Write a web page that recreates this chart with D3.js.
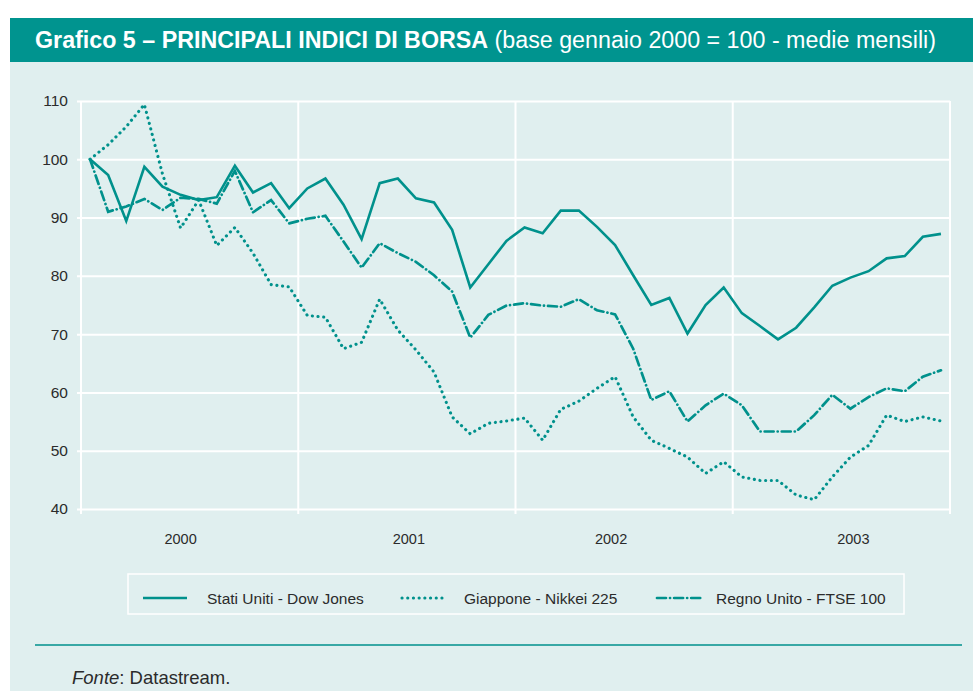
<!DOCTYPE html>
<html><head><meta charset="utf-8">
<script src="https://cdn.jsdelivr.net/npm/d3@7"></script>
<style>
html,body{margin:0;padding:0;background:#fff;}
svg{display:block;}
text{font-family:"Liberation Sans",Arial,Helvetica,sans-serif;}
</style></head>
<body>
<svg id="chart" width="973" height="691"></svg>
<script>
// ---- data ----
const years = ["2000", "2001", "2002", "2003"];
const yTicks = [40, 50, 60, 70, 80, 90, 100, 110];
const seriesNames = ["Stati Uniti - Dow Jones", "Giappone - Nikkei 225", "Regno Unito - FTSE 100"];
const dowJones = [100.0, 97.3, 89.4, 98.7, 95.3, 93.9, 93.0, 93.5, 98.9, 94.3, 95.9, 91.6,
  95.0, 96.7, 92.2, 86.3, 95.9, 96.7, 93.3, 92.6, 87.9, 78.0, 82.0, 86.0,
  88.3, 87.3, 91.2, 91.2, 88.4, 85.3, 80.1, 75.0, 76.2, 70.1, 75.0, 78.0,
  73.6, 71.4, 69.1, 71.1, 74.6, 78.3, 79.7, 80.8, 83.0, 83.4, 86.7, 87.2];
const nikkei = [100.0, 102.5, 105.6, 109.4, 97.5, 88.2, 93.0, 85.2, 88.3, 83.9, 78.5, 78.1,
  73.2, 72.9, 67.5, 68.6, 76.0, 70.7, 67.3, 63.5, 55.8, 52.9, 54.7, 55.1,
  55.6, 51.8, 57.1, 58.5, 60.7, 62.7, 55.8, 51.8, 50.4, 48.9, 46.1, 48.1,
  45.5, 44.9, 44.9, 42.4, 41.6, 45.5, 48.9, 50.9, 56.1, 55.0, 55.8, 55.1];
const ftse = [100.0, 91.0, 91.9, 93.2, 91.3, 93.4, 93.2, 92.4, 98.0, 90.9, 93.0, 89.0,
  89.8, 90.3, 85.9, 81.4, 85.6, 83.9, 82.4, 80.1, 77.3, 69.4, 73.3, 74.9,
  75.3, 74.9, 74.7, 76.0, 74.1, 73.4, 67.5, 58.7, 60.2, 55.0, 57.8, 59.8,
  57.8, 53.3, 53.3, 53.3, 56.1, 59.6, 57.2, 59.2, 60.7, 60.2, 62.7, 63.8];
const months = [];
years.forEach(y => { for (let m = 1; m <= 12; m++) months.push(y + "-" + String(m).padStart(2, "0")); });

// ---- layout ----
const teal = "#00918c";
const barColor = "#00948f";
const bg = "#e0efef";
const textColor = "#2b2b2b";
const plot = {left: 81, right: 950, top: 101, bottom: 509};
const yearLabelShift = [-9, 2, -13, 12];

const svg = d3.select("#chart");

// background panel + title bar
svg.append("rect").attr("x", 10).attr("y", 62).attr("width", 963).attr("height", 629).attr("fill", bg);
svg.append("rect").attr("x", 10).attr("y", 18).attr("width", 963).attr("height", 44).attr("fill", barColor);
const title = svg.append("text").attr("x", 35).attr("y", 48).attr("fill", "#fff").attr("font-size", 23);
title.append("tspan").attr("font-weight", "bold").text("Grafico 5 – PRINCIPALI INDICI DI BORSA");
title.append("tspan").text(" (base gennaio 2000 = 100 - medie mensili)");
title.attr("textLength", 901).attr("lengthAdjust", "spacingAndGlyphs");

// scales
const x = d3.scaleBand().domain(months).range([plot.left, plot.right]).padding(0);
const xc = m => x(m) + x.bandwidth() / 2;
const y = d3.scaleLinear().domain([40, 110]).range([plot.bottom, plot.top]);

// horizontal gridlines + y labels via axis
const yAxis = d3.axisLeft(y).tickValues(yTicks).tickSize(-(plot.right - plot.left + 4)).tickPadding(9).tickFormat(d3.format("d"));
const gy = svg.append("g").attr("transform", `translate(${plot.left - 4},0)`).call(yAxis);
gy.select(".domain").remove();
gy.selectAll(".tick line").attr("stroke", "#fff").attr("stroke-width", 2);
gy.selectAll(".tick text").attr("fill", textColor).attr("font-size", 15.5);

// vertical year boundaries
const yearBounds = years.map(yr => x(yr + "-01")).concat([plot.right]);
svg.append("g").selectAll("line").data(yearBounds).join("line")
  .attr("x1", d => d).attr("x2", d => d)
  .attr("y1", plot.top).attr("y2", plot.bottom + 5)
  .attr("stroke", "#fff").attr("stroke-width", 2);

// year labels
svg.append("g").selectAll("text").data(years).join("text")
  .attr("x", (yr, i) => (x(yr + "-01") + x(yr + "-12") + x.bandwidth()) / 2 + yearLabelShift[i])
  .attr("y", 544).attr("text-anchor", "middle").attr("font-size", 14.5).attr("fill", textColor)
  .text(d => d);

// lines
const dashes = ["none", "0.1 5.6", "9 4 0.1 4"];
const caps = ["butt", "round", "round"];
const widths = [2.6, 3.1, 2.7];
const allSeries = [dowJones, nikkei, ftse];
const line = d3.line().x((d, i) => xc(months[i])).y(d => y(d));
allSeries.forEach((s, k) => {
  svg.append("path").datum(s).attr("d", line)
    .attr("fill", "none").attr("stroke", teal).attr("stroke-width", widths[k])
    .attr("stroke-linejoin", "miter").attr("stroke-linecap", caps[k])
    .attr("stroke-dasharray", dashes[k]);
});

// legend
svg.append("rect").attr("x", 128).attr("y", 574).attr("width", 776).attr("height", 40)
  .attr("fill", "none").attr("stroke", "#fff").attr("stroke-width", 1.5);
const legX = [143, 402, 657];
const legTextX = [207, 464, 716];
seriesNames.forEach((n, k) => {
  svg.append("line").attr("x1", legX[k]).attr("x2", legX[k] + 44).attr("y1", 598).attr("y2", 598)
    .attr("stroke", teal).attr("stroke-width", widths[k]).attr("stroke-linecap", caps[k])
    .attr("stroke-dasharray", dashes[k]);
  svg.append("text").attr("x", legTextX[k]).attr("y", 604).attr("font-size", 15.5).attr("fill", textColor).text(n);
});

// rule + source
svg.append("line").attr("x1", 35).attr("x2", 962).attr("y1", 645).attr("y2", 645)
  .attr("stroke", teal).attr("stroke-width", 1.3);
const src = svg.append("text").attr("x", 72).attr("y", 684).attr("font-size", 18.5).attr("fill", textColor);
src.append("tspan").attr("font-style", "italic").text("Fonte");
src.append("tspan").text(": Datastream.");
</script>
</body></html>
